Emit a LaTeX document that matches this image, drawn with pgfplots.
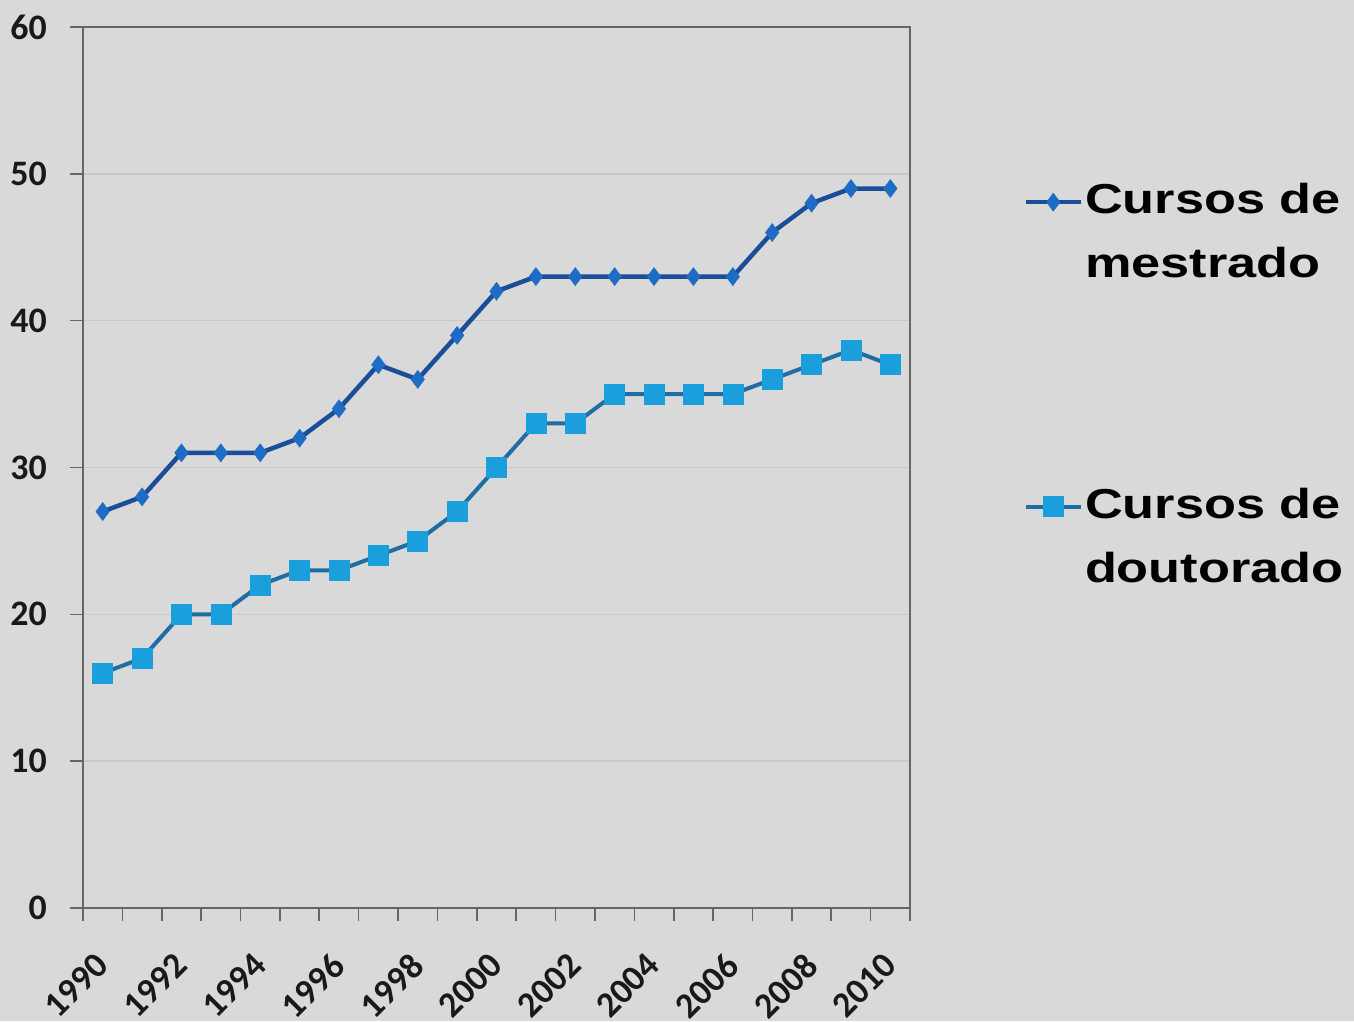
\documentclass[border=0pt]{standalone}
\usepackage{fontspec}
\usepackage{pgfplots}
\pgfplotsset{compat=1.18}

\newfontfamily\tickfont{Carlito}
\newfontfamily\legfont[FakeStretch=1.25]{Liberation Sans}

\definecolor{bgcol}{HTML}{D9D9D9}
\definecolor{gridcol}{HTML}{C9C9C9}
\definecolor{axiscol}{HTML}{666666}
\definecolor{mline}{HTML}{1B4E98}
\definecolor{mmark}{HTML}{1E6CC6}
\definecolor{dline}{HTML}{1F6DA3}
\definecolor{dmark}{HTML}{1A9EDC}

% number of courses per year (1990 = 0, ..., 2010 = 20)
\pgfplotstableread{
x  y
0  27
1  28
2  31
3  31
4  31
5  32
6  34
7  37
8  36
9  39
10 42
11 43
12 43
13 43
14 43
15 43
16 43
17 46
18 48
19 49
20 49
}\mestrado

\pgfplotstableread{
x  y
0  16
1  17
2  20
3  20
4  22
5  23
6  23
7  24
8  25
9  27
10 30
11 33
12 33
13 35
14 35
15 35
16 35
17 36
18 37
19 38
20 37
}\doutorado

\begin{document}
\begin{tikzpicture}[x=1bp,y=1bp]
\fill[bgcol] (0,0) rectangle (1354,1021);
\begin{axis}[
  at={(83bp,113bp)}, anchor=south west,
  scale only axis, width=827bp, height=881bp,
  xmin=-0.5, xmax=20.5, ymin=0, ymax=60,
  axis line style={axiscol, line width=1.6bp},
  tick style={axiscol, line width=1.6bp},
  tick align=outside,
  xtick pos=bottom, ytick pos=left,
  xtick={0,2,...,20},
  xticklabels={1990,1992,1994,1996,1998,2000,2002,2004,2006,2008,2010},
  minor xtick={-0.5,0.5,...,20.5},
  minor tick length=13bp,
  major x tick style={draw=none},
  ytick={0,10,...,60},
  major tick length=13bp,
  ymajorgrids,
  major grid style={gridcol, line width=1.5bp},
  /pgf/number format/assume math mode=true,
  ticklabel style={font=\tickfont\bfseries\fontsize{36}{40}\selectfont, text=black!90},
  yticklabel style={inner sep=0pt, xshift=-23bp},
  xticklabel style={xshift=-9bp, yshift=-30bp, rotate=45, anchor=north east, inner sep=0pt},
  legend style={
    at={(1.137,0.825)}, anchor=north west,
    draw=none, fill=none, inner sep=0pt,
    row sep=205bp,
    font=\legfont\bfseries\fontsize{42}{64}\selectfont,
    cells={align=left},
  },
  legend cell align=left,
  legend image code/.code={%
    \draw[mark repeat=2, mark phase=2, #1]
      plot coordinates {(-4bp,29bp) (23.5bp,29bp) (51bp,29bp)};},
]
\addplot[mline, line width=4.5bp, mark=diamond*, mark size=9bp,
  mark options={fill=mmark, draw=mmark, line width=0.5bp}]
  table[x=x, y=y] {\mestrado};
\addlegendentry{Cursos de\\mestrado}
\addplot[dline, line width=4bp, mark=square*, mark size=10bp,
  mark options={fill=dmark, draw=dmark, line width=0.5bp}]
  table[x=x, y=y] {\doutorado};
\addlegendentry{Cursos de\\doutorado}
\end{axis}
\pgfresetboundingbox
\useasboundingbox (0,0) rectangle (1354,1021);
\end{tikzpicture}
\end{document}
